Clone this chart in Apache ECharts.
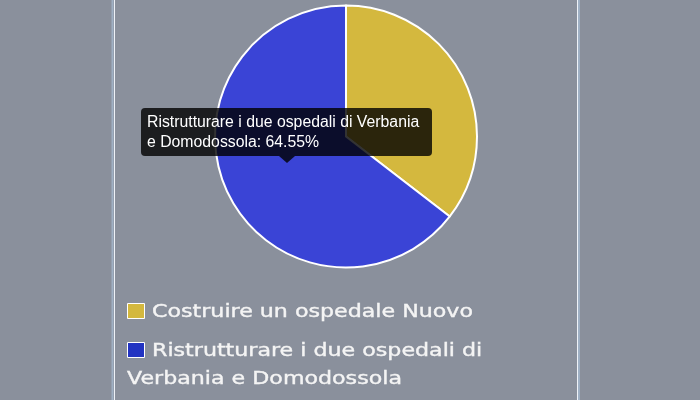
<!DOCTYPE html>
<html><head><meta charset="utf-8">
<script src="https://cdn.jsdelivr.net/npm/echarts@6/dist/echarts.min.js"></script>
<style>html,body{margin:0;padding:0;background:#8a909c;}#c{width:700px;height:400px;}</style>
</head><body><div id="c"></div>
<script>
const categories = ["Costruire un ospedale Nuovo", "Ristrutturare i due ospedali di Verbania e Domodossola"];
const values = [35.45, 64.55];
const colors = ["#d4b83e", "#2233c2"];
const hoverColors = ["#dcc455", "#3a44d6"];

const chart = echarts.init(document.getElementById('c'));
const legendFont = '18px "DejaVu Sans"';
const ctx = document.createElement('canvas').getContext('2d');
ctx.font = legendFont;
// horizontal stretch so the legend font matches the wide face of the original
const sx = 321 / ctx.measureText(categories[0]).width;
function wrap(text, firstWidth, width) {
  const words = text.split(' ');
  const lines = []; let cur = ''; let w = firstWidth;
  for (const word of words) {
    const t = cur ? cur + ' ' + word : word;
    if (ctx.measureText(t).width * sx > w && cur) { lines.push(cur); cur = word; w = width; }
    else cur = t;
  }
  if (cur) lines.push(cur);
  return lines;
}
const graphics = [
  {type:'line', shape:{x1:112.5,y1:0,x2:112.5,y2:400}, style:{stroke:'#9fb0c4', lineWidth:2}},
  {type:'line', shape:{x1:114.5,y1:0,x2:114.5,y2:400}, style:{stroke:'#eef2f8', lineWidth:1}},
  {type:'line', shape:{x1:577.5,y1:0,x2:577.5,y2:400}, style:{stroke:'#eef2f8', lineWidth:1}},
  {type:'line', shape:{x1:579,y1:0,x2:579,y2:400}, style:{stroke:'#9fb0c4', lineWidth:2}}
];
let y = 303;
categories.forEach((name, i) => {
  graphics.push({type:'rect', shape:{x:127.5,y:y+0.5,width:17,height:15}, style:{fill:colors[i], stroke:'#ffffff', lineWidth:1}});
  const lines = wrap(name, 565 - 152, 565 - 127);
  lines.forEach((ln, j) => {
    graphics.push({type:'text', x: j === 0 ? 152 : 127, y: y + 9 + j * 28, scaleX: sx,
      style:{text: ln, font: legendFont, fill:'#f4f4f4', stroke:'#f4f4f4', lineWidth:0.4, verticalAlign:'middle'}});
  });
  y += 39 + (lines.length - 1) * 28;
});

chart.setOption({
  animation: false,
  backgroundColor: '#8a909c',
  tooltip: {
    trigger: 'item',
    transitionDuration: 0,
    backgroundColor: 'rgba(0,0,0,0.8)',
    borderWidth: 0,
    padding: [4, 9, 4, 6],
    textStyle: {color:'#fff', fontFamily:'"Liberation Sans", Arial', fontSize: 15.8},
    extraCssText: 'border-radius:4px;box-shadow:none;width:276px;white-space:normal;line-height:20px;overflow:visible;',
    position: function () { return [141, 108]; },
    formatter: function (p) {
      return p.name + ': ' + p.value.toFixed(2) + '%' +
        '<div style="position:absolute;left:138px;bottom:-7px;width:0;height:0;border-left:8px solid transparent;border-right:8px solid transparent;border-top:7px solid rgba(0,0,0,0.8);"></div>';
    }
  },
  graphic: graphics,
  series: [{
    type: 'pie',
    center: [346, 136.5],
    radius: [0, 131],
    startAngle: 90,
    clockwise: true,
    label: {show:false},
    labelLine: {show:false},
    emphasis: {scale:false},
    itemStyle: {borderColor:'#ffffff', borderWidth:2},
    data: categories.map((n, i) => ({name:n, value: values[i],
      itemStyle:{color: i === 1 ? hoverColors[1] : colors[i]},
      emphasis:{itemStyle:{color: hoverColors[i]}}}))
  }]
});
chart.dispatchAction({type:'highlight', seriesIndex:0, dataIndex:1});
chart.dispatchAction({type:'showTip', seriesIndex:0, dataIndex:1});
</script></body></html>
